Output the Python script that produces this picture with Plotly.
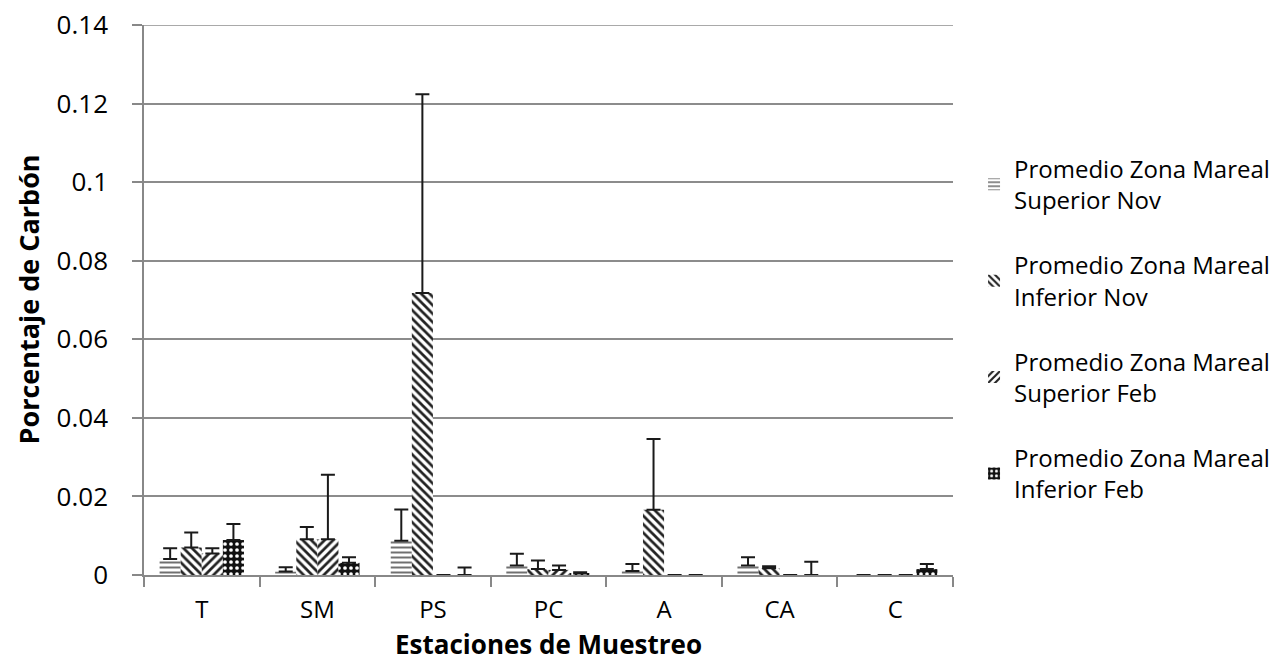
import plotly.graph_objects as go

categories = ["T", "SM", "PS", "PC", "A", "CA", "C"]

sup_nov = [0.0041, 0.0009, 0.0087, 0.0024, 0.0010, 0.0024, 0.0]
sup_nov_err = [0.0027, 0.0011, 0.0080, 0.0030, 0.0018, 0.0021, 0.0]

inf_nov = [0.0070, 0.0091, 0.0718, 0.0015, 0.0166, 0.0017, 0.0]
inf_nov_err = [0.0038, 0.0031, 0.0506, 0.0022, 0.0180, 0.0005, 0.0]

sup_feb = [0.0055, 0.0091, 0.0, 0.0013, 0.0, 0.0, 0.0]
sup_feb_err = [0.0013, 0.0164, 0.0, 0.0011, 0.0, 0.0, 0.0]

inf_feb = [0.0089, 0.0031, 0.0, 0.0004, 0.0, 0.0, 0.0015]
inf_feb_err = [0.0041, 0.0014, 0.0019, 0.0003, 0.0, 0.0034, 0.0013]

y_tick_vals = [0, 0.02, 0.04, 0.06, 0.08, 0.10, 0.12, 0.14]
y_tick_text = ["0", "0.02", "0.04", "0.06", "0.08", "0.1", "0.12", "0.14"]

names = [
    "Promedio Zona Mareal<br>Superior Nov",
    "Promedio Zona Mareal<br>Inferior Nov",
    "Promedio Zona Mareal<br>Superior Feb",
    "Promedio Zona Mareal<br>Inferior Feb",
]

x_title = "Estaciones de Muestreo"
y_title = "Porcentaje de Carbón"

FONT = "Open Sans"
GRID = "#8c8c8c"

series = [
    (sup_nov, sup_nov_err, dict(shape="-", fgcolor="#707070", bgcolor="white", size=5, solidity=0.4)),
    (inf_nov, inf_nov_err, dict(shape="\\", fgcolor="#222222", bgcolor="white", size=6, solidity=0.45)),
    (sup_feb, sup_feb_err, dict(shape="/", fgcolor="#222222", bgcolor="white", size=6, solidity=0.45)),
    (inf_feb, inf_feb_err, dict(shape=".", fgcolor="white", bgcolor="#111111", size=6, solidity=0.3)),
]

fig = go.Figure()
for i, (vals, errs, pat) in enumerate(series):
    fig.add_trace(go.Bar(
        x=categories, y=vals, name=names[i], legendgroup=f"g{i}",
        marker=dict(color="white", line=dict(width=0), pattern=dict(fillmode="replace", **pat)),
        error_y=dict(type="data", symmetric=False, array=errs, arrayminus=[0] * len(errs),
                     color="#1a1a1a", thickness=2, width=7),
    ))

fig.update_layout(
    width=1285, height=662,
    margin=dict(l=144, r=332, t=25, b=87, autoexpand=False),
    paper_bgcolor="white", plot_bgcolor="white",
    barmode="group", bargap=0.27, bargroupgap=0,
    font=dict(family=FONT, color="#000000", size=24),
    showlegend=True,
    legend=dict(x=1.026, xanchor="left", y=0.779, yanchor="top",
                font=dict(family=FONT, size=24, color="#000000"),
                tracegroupgap=31, itemwidth=30,
                bgcolor="rgba(0,0,0,0)"),
    xaxis=dict(
        type="category", tickson="boundaries", ticks="outside", ticklen=10, tickwidth=1.5,
        tickcolor="#888888", showline=True, linecolor="#888888", linewidth=1.5,
        showgrid=False, tickfont=dict(family=FONT, size=24, color="#000000"),
        ticklabelstandoff=12, automargin=False,
    ),
    yaxis=dict(
        range=[0, y_tick_vals[-1]], tickvals=y_tick_vals, ticktext=y_tick_text,
        ticks="outside", ticklen=10, tickwidth=1.5, ticklabeloverflow="allow",
        tickcolor="#888888", showline=True, linecolor="#888888", linewidth=1.5,
        showgrid=True, gridcolor=GRID, gridwidth=1.5, zeroline=False,
        tickfont=dict(family=FONT, size=26, color="#000000"),
        ticklabelstandoff=19, automargin=False,
    ),
    shapes=[
        # top gridline (plotly omits gridlines at the range edge)
        dict(type="line", xref="paper", x0=0, x1=1, yref="y",
             y0=y_tick_vals[-1], y1=y_tick_vals[-1], line=dict(color=GRID, width=1.5), layer="below"),
    ],
    annotations=[
        dict(text=f"<b>{x_title}</b>", xref="paper", yref="paper", x=0.5, y=-0.125,
             xanchor="center", yanchor="middle", showarrow=False,
             font=dict(family=FONT, size=26, color="#000000")),
        dict(text=f"<b>{y_title}</b>", xref="paper", yref="paper", x=-0.144, y=0.5,
             xanchor="center", yanchor="middle", showarrow=False, textangle=-90,
             font=dict(family=FONT, size=27, color="#000000")),
    ],
)

fig.write_html("out.html", config={"displayModeBar": False},
               post_script="document.body.style.margin='0px';")
